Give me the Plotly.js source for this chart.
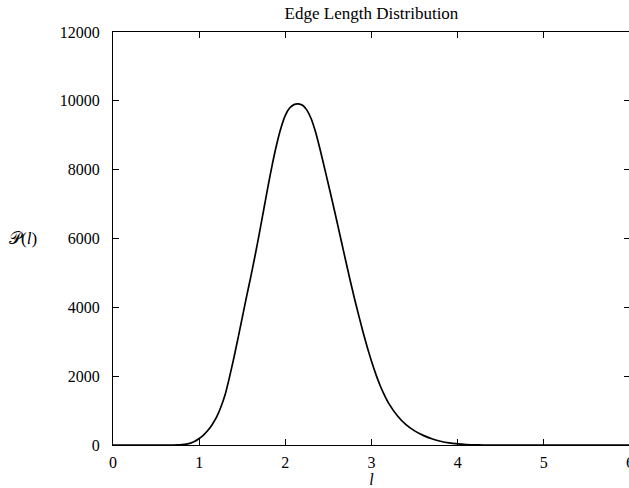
<!DOCTYPE html>
<html>
<head>
<meta charset="utf-8">
<script src="https://cdn.plot.ly/plotly-3.0.1.min.js"></script>
<style>
html,body{margin:0;padding:0;overflow:hidden;background:#fff;}
#chart{width:632px;height:488px;}
</style>
</head>
<body>
<div id="chart"></div>
<script>
// Edge length l
const lengths = [0, 0.5, 0.7, 0.75, 0.8, 0.85, 0.9, 0.95, 1.0, 1.05, 1.1, 1.15, 1.2, 1.25, 1.3, 1.35, 1.4, 1.45, 1.5, 1.55, 1.6, 1.65, 1.7, 1.75, 1.8, 1.85, 1.9, 1.95, 2.0, 2.05, 2.1, 2.15, 2.2, 2.25, 2.3, 2.35, 2.4, 2.45, 2.5, 2.55, 2.6, 2.65, 2.7, 2.75, 2.8, 2.85, 2.9, 2.95, 3.0, 3.05, 3.1, 3.15, 3.2, 3.3, 3.4, 3.5, 3.6, 3.7, 3.8, 3.9, 4.0, 4.1, 4.2, 4.3, 4.5, 5.0, 5.5, 6.0];
// P(l)
const counts = [0, 0, 0, 2, 10, 25, 55, 110, 190, 290, 420, 590, 800, 1090, 1450, 1950, 2500, 3090, 3700, 4310, 4900, 5520, 6170, 6850, 7530, 8170, 8740, 9220, 9580, 9790, 9890, 9910, 9870, 9730, 9480, 9100, 8620, 8100, 7570, 7030, 6480, 5920, 5360, 4810, 4280, 3780, 3300, 2850, 2430, 2060, 1730, 1450, 1210, 850, 590, 410, 280, 180, 110, 60, 30, 12, 4, 0, 0, 0, 0, 0];

const xTicks = [0, 1, 2, 3, 4, 5, 6];
const yTicks = [0, 2000, 4000, 6000, 8000, 10000, 12000];

const fontFam = '"Liberation Serif", "DejaVu Serif", serif';

const trace = {
  x: lengths, y: counts, type: 'scatter', mode: 'lines',
  line: {color: '#000', width: 1.7, shape: 'spline', smoothing: 0.5},
  hoverinfo: 'skip'
};

const layout = {
  width: 632, height: 488,
  margin: {l: 113, r: 2, t: 32, b: 43},
  paper_bgcolor: '#fff', plot_bgcolor: '#fff',
  showlegend: false,
  font: {family: fontFam, size: 16, color: '#000'},
  title: {text: 'Edge Length Distribution', x: 0.5, xref: 'paper', y: 0.974, yanchor: 'middle',
          font: {family: fontFam, size: 17, color: '#000'}},
  xaxis: {
    range: [0, 6], tickmode: 'array', tickvals: xTicks, ticktext: xTicks.map(String),
    ticks: 'inside', ticklen: 6, tickwidth: 1, tickcolor: '#000',
    showline: true, linecolor: '#000', linewidth: 1, mirror: 'ticks',
    showgrid: false, zeroline: false, ticklabelstandoff: 3, ticklabeloverflow: 'allow',
    title: {text: '<i>l</i>', standoff: 0, font: {family: fontFam, size: 16, color: '#000'}}
  },
  yaxis: {
    range: [0, 12000], tickmode: 'array', tickvals: yTicks, ticktext: yTicks.map(String),
    ticks: 'inside', ticklen: 6, tickwidth: 1, tickcolor: '#000',
    showline: true, linecolor: '#000', linewidth: 1, mirror: 'ticks',
    showgrid: false, zeroline: false, ticklabelstandoff: 9
  },
  annotations: [{
    text: '𝒫(<i>l</i>)', xref: 'paper', yref: 'paper', x: -0.174, y: 0.5,
    xanchor: 'center', yanchor: 'middle', showarrow: false,
    font: {family: fontFam, size: 17, color: '#000'}
  }]
};

Plotly.newPlot('chart', [trace], layout, {displayModeBar: false, staticPlot: true});
</script>
</body>
</html>
